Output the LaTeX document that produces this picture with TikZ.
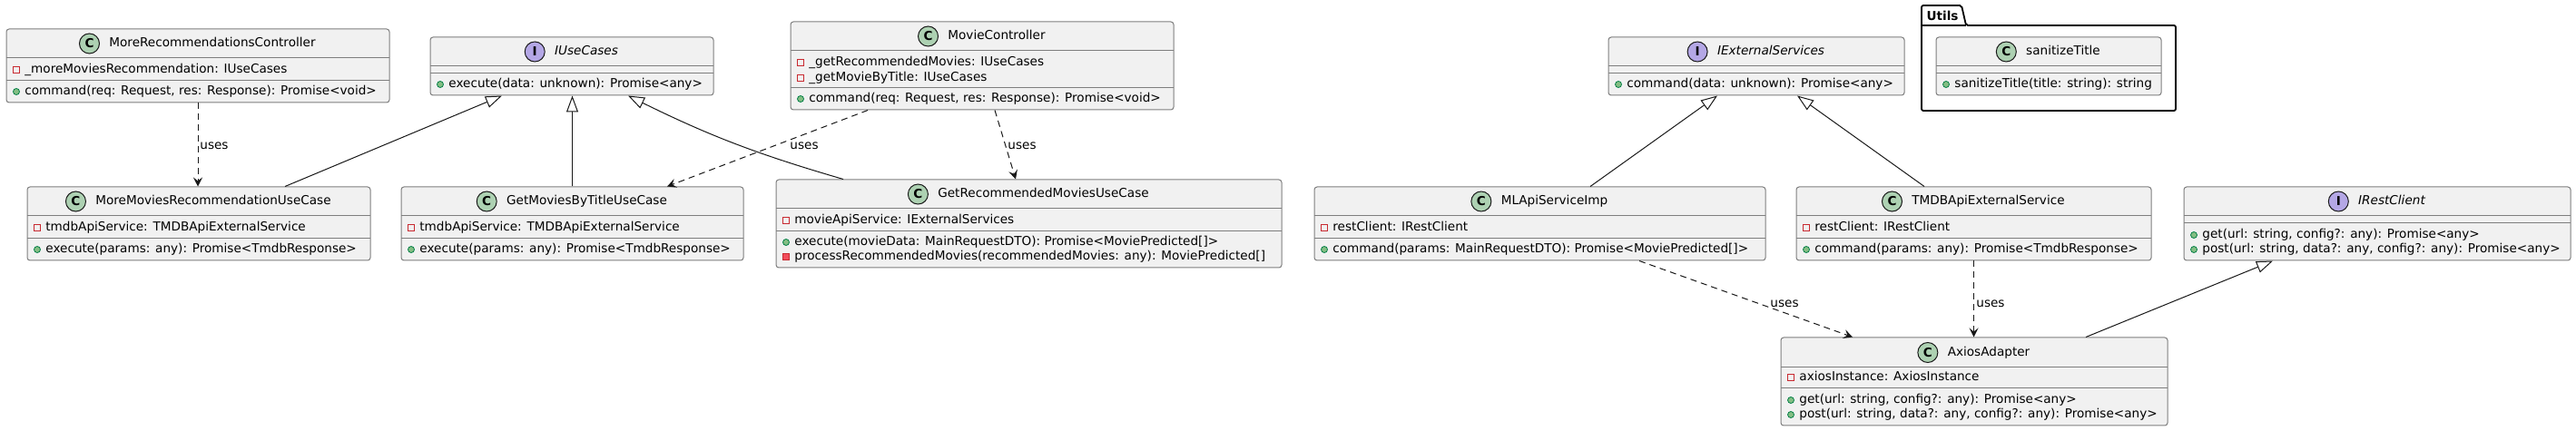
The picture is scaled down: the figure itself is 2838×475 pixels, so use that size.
\documentclass[tikz,border=0pt]{standalone}
\usepackage{fontspec}
\setmainfont{DejaVu Sans}
\usetikzlibrary{arrows.meta,positioning,fit}

\definecolor{umlfill}{HTML}{F1F1F1}
\definecolor{umlborder}{HTML}{7E7E7E}
\definecolor{umlline}{HTML}{181818}
\definecolor{spotclass}{HTML}{ADD1B2}
\definecolor{spotiface}{HTML}{B4A7E5}
\definecolor{privred}{HTML}{C82930}
\definecolor{privfill}{HTML}{F24D5C}
\definecolor{pubgreen}{HTML}{038048}
\definecolor{pubfill}{HTML}{84BE84}

\newcommand{\umlfont}{\fontsize{6.8}{8}\selectfont}

\tikzset{
  classbox/.style={draw=umlborder, fill=umlfill, line width=0.5pt, rounded corners=1.5pt, inner sep=0pt},
  sepline/.style={draw=umlborder, line width=0.5pt},
  classname/.style={inner sep=0pt, font=\umlfont, text height=5.2pt, text depth=1.5pt},
  ifacename/.style={classname, font=\umlfont\itshape},
  spotC/.style={circle, draw=umlline, fill=spotclass, line width=0.5pt, minimum size=11pt, inner sep=0pt, font=\umlfont\bfseries},
  spotI/.style={spotC, fill=spotiface},
  member/.style={anchor=west, inner sep=0pt, font=\umlfont, text height=5.2pt, text depth=1.5pt},
  privfield/.style={rectangle, draw=privred, line width=0.4pt, minimum size=3.3pt, inner sep=0pt},
  privmethod/.style={privfield, fill=privfill},
  pubmethod/.style={circle, draw=pubgreen, fill=pubfill, line width=0.4pt, minimum size=3.5pt, inner sep=0pt},
  inherits/.style={draw=umlline, line width=0.5pt, -{Triangle[open, fill=white, length=9pt, width=6.5pt]}},
  uses/.style={draw=umlline, line width=0.5pt, dash pattern=on 3.5pt off 2.5pt, -{Stealth[length=5pt, width=5pt, inset=2pt]}},
  useslabel/.style={inner sep=0pt, font=\umlfont},
  pkgframe/.style={draw=black, line width=0.9pt, fill=white, rounded corners=1pt}
}

\begin{document}
\begin{tikzpicture}[x=0.5pt, y=-0.5pt]
\useasboundingbox[fill=white] (0,0) rectangle (2838,475);

% package Utils
\draw[pkgframe] (2117,122) -- (2117,6) -- (2161,6) -- (2166,28) -- (2397,28) -- (2397,122) -- cycle;
\draw[black, line width=0.9pt] (2117,28) -- (2166,28);
\node[inner sep=0pt, font=\umlfont\bfseries] (utils) at (2140,17) {Utils};

% MoreRecommendationsController
\node[classbox, fit={(7,32) (429,113)}] (mrc) {};
\draw[sepline] (7,64) -- (429,64);
\draw[sepline] (7,89) -- (429,89);
\node[classname] (mrc-name) at (234,48) {MoreRecommendationsController};
\node[spotC, left=5pt of mrc-name] (mrc-spot) {C};
\node[privfield] (mrc-v1) at (18,77) {};
\node[member] (mrc-a1) at (27,77) {\_moreMoviesRecommendation: IUseCases};
\node[pubmethod] (mrc-v2) at (18,101) {};
\node[member] (mrc-m1) at (27,101) {command(req: Request, res: Response): Promise<void>};

% IUseCases
\node[classbox, fit={(474,41) (786,105)}] (iuc) {};
\draw[sepline] (474,73) -- (786,73);
\draw[sepline] (474,81) -- (786,81);
\node[ifacename] (iuc-name) at (646,57) {IUseCases};
\node[spotI, left=5pt of iuc-name] (iuc-spot) {I};
\node[pubmethod] (iuc-v1) at (485,93) {};
\node[member] (iuc-m1) at (494,93) {execute(data: unknown): Promise<any>};

% MovieController
\node[classbox, fit={(871,24) (1293,121)}] (mc) {};
\draw[sepline] (871,56) -- (1293,56);
\draw[sepline] (871,97) -- (1293,97);
\node[classname] (mc-name) at (1098,40) {MovieController};
\node[spotC, left=5pt of mc-name] (mc-spot) {C};
\node[privfield] (mc-v1) at (882,69) {};
\node[member] (mc-a1) at (891,69) {\_getRecommendedMovies: IUseCases};
\node[privfield] (mc-v2) at (882,86) {};
\node[member] (mc-a2) at (891,86) {\_getMovieByTitle: IUseCases};
\node[pubmethod] (mc-v3) at (882,109) {};
\node[member] (mc-m1) at (891,109) {command(req: Request, res: Response): Promise<void>};

% IExternalServices
\node[classbox, fit={(1772,41) (2098,105)}] (ies) {};
\draw[sepline] (1772,73) -- (2098,73);
\draw[sepline] (1772,81) -- (2098,81);
\node[ifacename] (ies-name) at (1951,57) {IExternalServices};
\node[spotI, left=5pt of ies-name] (ies-spot) {I};
\node[pubmethod] (ies-v1) at (1783,93) {};
\node[member] (ies-m1) at (1792,93) {command(data: unknown): Promise<any>};

% sanitizeTitle
\node[classbox, fit={(2133,41) (2381,105)}] (st) {};
\draw[sepline] (2133,73) -- (2381,73);
\draw[sepline] (2133,81) -- (2381,81);
\node[classname] (st-name) at (2273,57) {sanitizeTitle};
\node[spotC, left=5pt of st-name] (st-spot) {C};
\node[pubmethod] (st-v1) at (2144,93) {};
\node[member] (st-m1) at (2153,93) {sanitizeTitle(title: string): string};

% MoreMoviesRecommendationUseCase
\node[classbox, fit={(30,206) (408,287)}] (mmruc) {};
\draw[sepline] (30,238) -- (408,238);
\draw[sepline] (30,263) -- (408,263);
\node[classname] (mmruc-name) at (235,222) {MoreMoviesRecommendationUseCase};
\node[spotC, left=5pt of mmruc-name] (mmruc-spot) {C};
\node[privfield] (mmruc-v1) at (41,251) {};
\node[member] (mmruc-a1) at (50,251) {tmdbApiService: TMDBApiExternalService};
\node[pubmethod] (mmruc-v2) at (41,275) {};
\node[member] (mmruc-m1) at (50,275) {execute(params: any): Promise<TmdbResponse>};

% GetMoviesByTitleUseCase
\node[classbox, fit={(442,206) (819,287)}] (gmbt) {};
\draw[sepline] (442,238) -- (819,238);
\draw[sepline] (442,263) -- (819,263);
\node[classname] (gmbt-name) at (646.5,222) {GetMoviesByTitleUseCase};
\node[spotC, left=5pt of gmbt-name] (gmbt-spot) {C};
\node[privfield] (gmbt-v1) at (453,251) {};
\node[member] (gmbt-a1) at (462,251) {tmdbApiService: TMDBApiExternalService};
\node[pubmethod] (gmbt-v2) at (453,275) {};
\node[member] (gmbt-m1) at (462,275) {execute(params: any): Promise<TmdbResponse>};

% GetRecommendedMoviesUseCase
\node[classbox, fit={(855,198) (1412,295)}] (grmuc) {};
\draw[sepline] (855,230) -- (1412,230);
\draw[sepline] (855,255) -- (1412,255);
\node[classname] (grmuc-name) at (1149.5,214) {GetRecommendedMoviesUseCase};
\node[spotC, left=5pt of grmuc-name] (grmuc-spot) {C};
\node[privfield] (grmuc-v1) at (866,243) {};
\node[member] (grmuc-a1) at (875,243) {movieApiService: IExternalServices};
\node[pubmethod] (grmuc-v2) at (866,267) {};
\node[member] (grmuc-m1) at (875,267) {execute(movieData: MainRequestDTO): Promise<MoviePredicted[]>};
\node[privmethod] (grmuc-v3) at (866,283) {};
\node[member] (grmuc-m2) at (875,283) {processRecommendedMovies(recommendedMovies: any): MoviePredicted[]};

% MLApiServiceImp
\node[classbox, fit={(1448,206) (1945,287)}] (mlapi) {};
\draw[sepline] (1448,238) -- (1945,238);
\draw[sepline] (1448,263) -- (1945,263);
\node[classname] (mlapi-name) at (1712.5,222) {MLApiServiceImp};
\node[spotC, left=5pt of mlapi-name] (mlapi-spot) {C};
\node[privfield] (mlapi-v1) at (1459,251) {};
\node[member] (mlapi-a1) at (1468,251) {restClient: IRestClient};
\node[pubmethod] (mlapi-v2) at (1459,275) {};
\node[member] (mlapi-m1) at (1468,275) {command(params: MainRequestDTO): Promise<MoviePredicted[]>};

% TMDBApiExternalService
\node[classbox, fit={(1979,206) (2370,287)}] (tmdb) {};
\draw[sepline] (1979,238) -- (2370,238);
\draw[sepline] (1979,263) -- (2370,263);
\node[classname] (tmdb-name) at (2190.5,222) {TMDBApiExternalService};
\node[spotC, left=5pt of tmdb-name] (tmdb-spot) {C};
\node[privfield] (tmdb-v1) at (1990,251) {};
\node[member] (tmdb-a1) at (1999,251) {restClient: IRestClient};
\node[pubmethod] (tmdb-v2) at (1990,275) {};
\node[member] (tmdb-m1) at (1999,275) {command(params: any): Promise<TmdbResponse>};

% IRestClient
\node[classbox, fit={(2406,206) (2832,287)}] (irc) {};
\draw[sepline] (2406,238) -- (2832,238);
\draw[sepline] (2406,246) -- (2832,246);
\node[ifacename] (irc-name) at (2635,222) {IRestClient};
\node[spotI, left=5pt of irc-name] (irc-spot) {I};
\node[pubmethod] (irc-v1) at (2417,259) {};
\node[member] (irc-m1) at (2426,259) {get(url: string, config?: any): Promise<any>};
\node[pubmethod] (irc-v2) at (2417,275) {};
\node[member] (irc-m2) at (2426,275) {post(url: string, data?: any, config?: any): Promise<any>};

% AxiosAdapter
\node[classbox, fit={(1962,372) (2388,469)}] (axios) {};
\draw[sepline] (1962,405) -- (2388,405);
\draw[sepline] (1962,428) -- (2388,428);
\node[classname] (axios-name) at (2191,388.5) {AxiosAdapter};
\node[spotC, left=5pt of axios-name] (axios-spot) {C};
\node[privfield] (axios-v1) at (1973,416) {};
\node[member] (axios-a1) at (1982,416) {axiosInstance: AxiosInstance};
\node[pubmethod] (axios-v2) at (1973,441) {};
\node[member] (axios-m1) at (1982,441) {get(url: string, config?: any): Promise<any>};
\node[pubmethod] (axios-v3) at (1973,457) {};
\node[member] (axios-m2) at (1982,457) {post(url: string, data?: any, config?: any): Promise<any>};

% relations
\draw[uses] (mrc.south) -- (mrc.south |- mmruc.north);
\node[useslabel, anchor=west] (lbl-mrc) at (220,161) {uses};
\draw[inherits] ([xshift=47.5pt]mmruc.north) -- ([xshift=-38.5pt]iuc.south);
\draw[inherits] (gmbt.north) -- (gmbt.north |- iuc.south);
\draw[inherits] ([xshift=-102.25pt]grmuc.north) to[bend left=5] ([xshift=31pt]iuc.south);
\draw[uses] ([xshift=-63pt]mc.south) -- ([xshift=52.25pt]gmbt.north);
\node[useslabel] (lbl-mc1) at (886,161) {uses};
\draw[uses] ([xshift=7pt]mc.south) -- ([xshift=-7.25pt]grmuc.north);
\node[useslabel] (lbl-mc2) at (1126,161) {uses};
\draw[inherits] ([xshift=27.75pt]mlapi.north) -- ([xshift=-21.5pt]ies.south);
\draw[inherits] ([xshift=-27.25pt]tmdb.north) -- ([xshift=22.5pt]ies.south);
\draw[uses] ([xshift=54.75pt]mlapi.south) -- ([xshift=-67pt]axios.north);
\node[useslabel] (lbl-ml) at (1966,335) {uses};
\draw[uses] (tmdb.south) -- (tmdb.south |- axios.north);
\node[useslabel, anchor=west] (lbl-tmdb) at (2177,335) {uses};
\draw[inherits] ([xshift=61.5pt]axios.north) -- ([xshift=-57.5pt]irc.south);
\end{tikzpicture}
\end{document}
